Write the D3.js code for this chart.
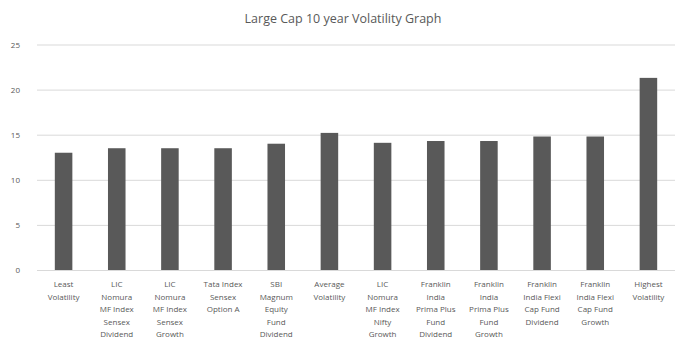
<!DOCTYPE html>
<html>
<head>
<meta charset="utf-8">
<script src="https://cdn.jsdelivr.net/npm/d3@7"></script>
<style>
  body { margin: 0; background: #fff; }
  text { font-family: "Open Sans", "Liberation Sans", sans-serif; fill: #595959; }
</style>
</head>
<body>
<div id="wrapper"></div>
<script>
// categories, already broken into the lines shown under each bar
const categories = [
  ["Least", "Volatility"],
  ["LIC", "Nomura", "MF Index", "Sensex", "Dividend"],
  ["LIC", "Nomura", "MF Index", "Sensex", "Growth"],
  ["Tata Index", "Sensex", "Option A"],
  ["SBI", "Magnum", "Equity", "Fund", "Dividend"],
  ["Average", "Volatility"],
  ["LIC", "Nomura", "MF Index", "Nifty", "Growth"],
  ["Franklin", "India", "Prima Plus", "Fund", "Dividend"],
  ["Franklin", "India", "Prima Plus", "Fund", "Growth"],
  ["Franklin", "India Flexi", "Cap Fund", "Dividend"],
  ["Franklin", "India Flexi", "Cap Fund", "Growth"],
  ["Highest", "Volatility"],
]
const volatility = [13.0, 13.5, 13.5, 13.5, 14.0, 15.2, 14.1, 14.3, 14.3, 14.8, 14.8, 21.3]
const yTicks = [0, 5, 10, 15, 20, 25]
const title = "Large Cap 10 year Volatility Graph"

const dimensions = {
  width: 684,
  height: 354,
  margin: { top: 44.5, right: 9, bottom: 84, left: 37 },
}
dimensions.boundedWidth =
  dimensions.width - dimensions.margin.left - dimensions.margin.right
dimensions.boundedHeight =
  dimensions.height - dimensions.margin.top - dimensions.margin.bottom

const svg = d3
  .select("#wrapper")
  .append("svg")
  .attr("width", dimensions.width)
  .attr("height", dimensions.height)

const bounds = svg
  .append("g")
  .attr("transform", `translate(${dimensions.margin.left},${dimensions.margin.top})`)

const data = categories.map((lines, i) => ({ key: i, lines, value: volatility[i] }))

const xScale = d3
  .scaleBand()
  .domain(data.map((d) => d.key))
  .range([0, dimensions.boundedWidth])
  .paddingInner(0.67)
  .paddingOuter(0.335)

const yScale = d3
  .scaleLinear()
  .domain([0, 25])
  .range([dimensions.boundedHeight, 0])

// gridlines + y labels
const yAxis = bounds
  .append("g")
  .call(
    d3.axisLeft(yScale)
      .tickValues(yTicks)
      .tickSize(-dimensions.boundedWidth)
      .tickPadding(17)
  )
yAxis.select(".domain").remove()
yAxis.selectAll("line").attr("stroke", "#d9d9d9").attr("stroke-width", 1)
yAxis.selectAll("text")
  .attr("fill", "#595959")
  .style("font-size", "8px")
  .style("font-family", "\"Open Sans\", sans-serif")

// bars
bounds
  .selectAll("rect.bar")
  .data(data)
  .join("rect")
  .attr("class", "bar")
  .attr("x", (d) => xScale(d.key))
  .attr("width", xScale.bandwidth())
  .attr("y", (d) => yScale(d.value))
  .attr("height", (d) => dimensions.boundedHeight - yScale(d.value))
  .attr("fill", "#595959")

// category labels
const labels = bounds
  .selectAll("text.cat")
  .data(data)
  .join("text")
  .attr("class", "cat")
  .attr("text-anchor", "middle")
  .style("font-size", "8px")
  .attr("transform", (d) =>
    `translate(${xScale(d.key) + xScale.bandwidth() / 2},${dimensions.boundedHeight + 17})`)

labels
  .selectAll("tspan")
  .data((d) => d.lines)
  .join("tspan")
  .attr("x", 0)
  .attr("y", (d, i) => i * 12.6)
  .text((d) => d)

// title
svg
  .append("text")
  .attr("x", dimensions.width / 2 + 1)
  .attr("y", 23)
  .attr("text-anchor", "middle")
  .style("font-size", "12.5px")
  .text(title)
</script>
</body>
</html>
